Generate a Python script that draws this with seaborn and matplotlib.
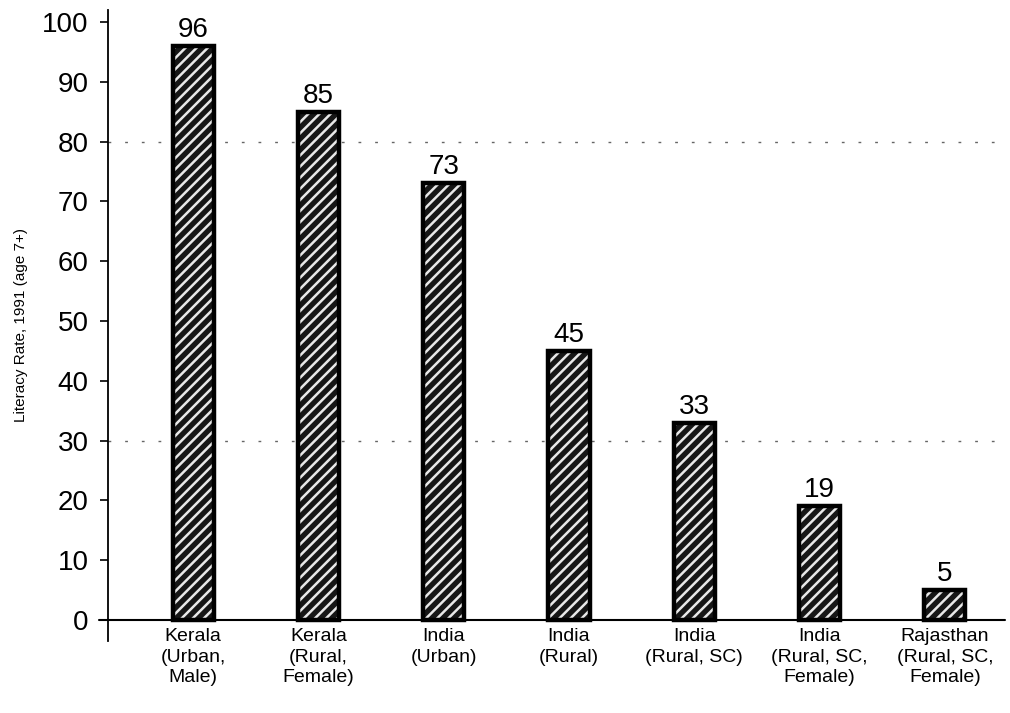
import matplotlib
matplotlib.use("Agg")
import matplotlib.pyplot as plt
from matplotlib.patches import Rectangle
import seaborn as sns
import pandas as pd

# Literacy rates, 1991, population aged 7 and above
groups = [
    "Kerala\n(Urban,\nMale)",
    "Kerala\n(Rural,\nFemale)",
    "India\n(Urban)",
    "India\n(Rural)",
    "India\n(Rural, SC)",
    "India\n(Rural, SC,\nFemale)",
    "Rajasthan\n(Rural, SC,\nFemale)",
]
literacy = [96, 85, 73, 45, 33, 19, 5]
y_ticks = [0, 10, 20, 30, 40, 50, 60, 70, 80, 90, 100]
reference_levels = [80, 30]

df = pd.DataFrame({"group": groups, "rate": literacy})

sns.set_theme(style="white")
plt.rcParams["font.family"] = ["Liberation Sans", "DejaVu Sans"]
plt.rcParams["text.color"] = "black"
plt.rcParams["hatch.linewidth"] = 1.8

fig = plt.figure(figsize=(10.1, 7.13), dpi=100)
ax = fig.add_axes([0.107, 0.101, 0.888, 0.885])

sns.barplot(data=df, x="group", y="rate", ax=ax, width=0.33,
            color="#161616", edgecolor="#e8e8e8", linewidth=0, hatch="///",
            saturation=1)

# heavy black outline around each hatched bar
for p in ax.patches:
    ax.add_patch(Rectangle(p.get_xy(), p.get_width(), p.get_height(),
                           fill=False, edgecolor="black", linewidth=3.2, zorder=3))

# value labels above the bars
for p, v in zip(ax.patches, literacy):
    ax.text(p.get_x() + p.get_width() / 2, v + 0.5, f"{v}",
            ha="center", va="bottom", fontsize=20, color="black")

# faint dotted reference lines
for lvl in reference_levels:
    ax.axhline(lvl, color="#666666", linewidth=1, linestyle=(0, (2, 10)), zorder=0)

ax.set_xlim(-0.68, 6.48)
ax.set_ylim(-3.5, 102)
ax.set_yticks(y_ticks)
ax.set_yticklabels([str(t) for t in y_ticks], fontsize=20)
ax.tick_params(axis="y", direction="out", length=6, width=1.2, pad=8, colors="black", left=True)
ax.tick_params(axis="x", length=0, pad=-9, labelsize=14, colors="black")
for lab in ax.get_xticklabels():
    lab.set_linespacing(1.25)

ax.set_xlabel("")
ax.set_ylabel("Literacy Rate, 1991 (age 7+)", fontsize=11, color="black", labelpad=10)

for side in ["top", "right", "bottom"]:
    ax.spines[side].set_visible(False)
ax.spines["left"].set_color("black")
ax.spines["left"].set_linewidth(1.3)

# baseline at zero, crossing slightly past the vertical axis
ax.plot([-0.75, 6.48], [0, 0], color="black", linewidth=1.5, clip_on=False, zorder=4)

fig.savefig("out.png", dpi=100, facecolor="white")
